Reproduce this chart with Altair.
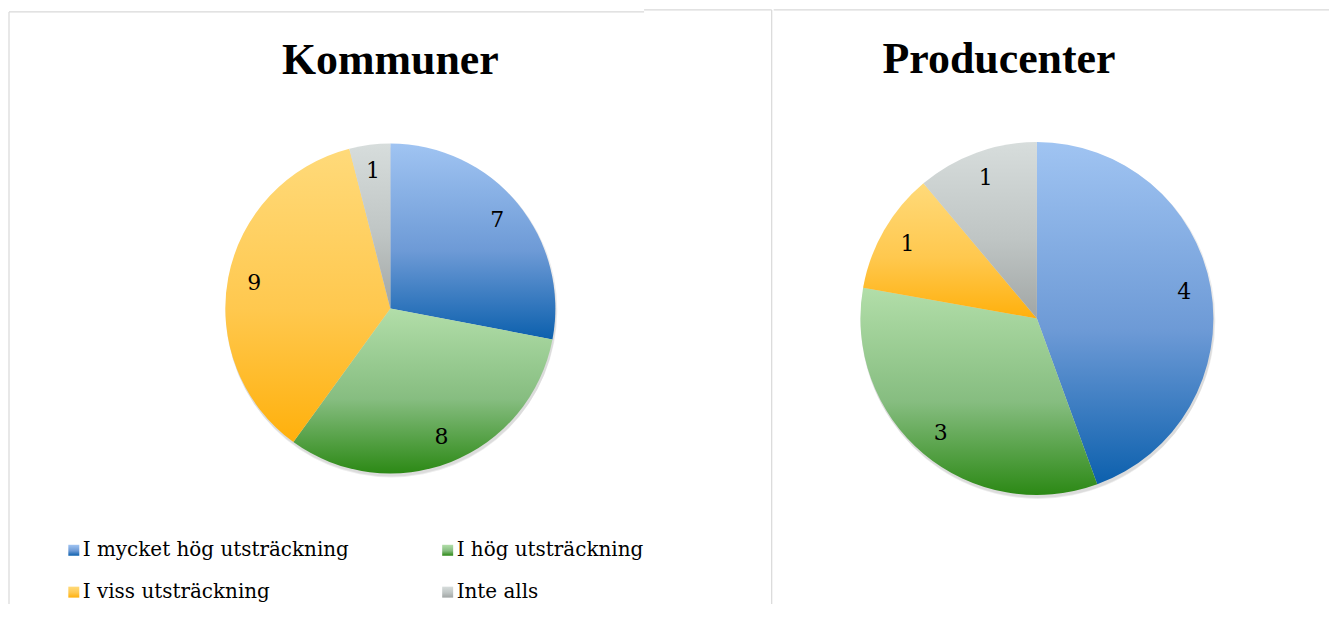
import altair as alt
import pandas as pd

# ---------------- data ----------------
categories = ["I mycket hög utsträckning", "I hög utsträckning", "I viss utsträckning", "Inte alls"]
kommuner_values = [7, 8, 9, 1]
producenter_values = [4, 3, 1, 1]
panel_titles = ["Kommuner", "Producenter"]
legend_cols = [0, 1, 0, 1]
legend_rows = [0, 0, 1, 1]

# ---------------- styles ----------------
def grad(c0, c1, c2):
    return alt.LinearGradient(
        gradient="linear", x1=0, y1=0, x2=0, y2=1,
        stops=[alt.GradientStop(color=c0, offset=0),
               alt.GradientStop(color=c1, offset=0.55),
               alt.GradientStop(color=c2, offset=1)])

fills = {
    categories[0]: grad("#a0c4f2", "#6d9ad6", "#0c60ad"),
    categories[1]: grad("#b2dea9", "#86bd80", "#2c8915"),
    categories[2]: grad("#ffda7a", "#ffc84e", "#ffb00c"),
    categories[3]: grad("#d7dddc", "#bfc5c4", "#a1a6a5"),
}
BORDER = "#d9d9d9"
W1, W2, H = 765, 557, 596
theta_scale = alt.Scale(domain=[0, 1], range=[0, 6.283185307179586])


def pie_layers(values, cx, cy, R, label_r):
    df = pd.DataFrame({"cat": categories, "value": values, "order": list(range(len(categories)))})
    base = (alt.Chart(df)
            .transform_joinaggregate(total="sum(value)")
            .transform_window(cum="sum(value)", sort=[alt.SortField("order")], frame=[None, 0])
            .transform_calculate(start="(datum.cum - datum.value) / datum.total",
                                 end="datum.cum / datum.total",
                                 mid="(datum.cum - datum.value / 2) / datum.total"))
    layers = []
    # soft shadow
    for dy, dr, op in [(4, 0, 0.07), (2, 1, 0.07)]:
        layers.append(base.transform_filter("datum.order == 0").mark_arc(
            theta=0, theta2=6.2831853, fill="#000000", opacity=op).encode(
            x=alt.value(cx + 1), y=alt.value(cy + dy), radius=alt.value(R + dr)))
    for c in categories:
        layers.append(base.transform_filter(alt.datum.cat == c).mark_arc(fill=fills[c], strokeWidth=0).encode(
            theta=alt.Theta("start:Q", stack=None, scale=theta_scale),
            theta2="end:Q",
            x=alt.value(cx), y=alt.value(cy), radius=alt.value(R)))
    layers.append(base.mark_text(font="DejaVu Serif", fontSize=22, color="#000000",
                                 align="center", baseline="middle").encode(
        theta=alt.Theta("mid:Q", stack=None, scale=theta_scale),
        radius=alt.value(label_r),
        x=alt.value(cx), y=alt.value(cy),
        text="value:Q"))
    return layers


def title_layer(text, tx, ty):
    d = pd.DataFrame({"t": [text]})
    return alt.Chart(d).mark_text(font="Liberation Serif", fontSize=44, fontWeight="bold",
                                  color="#000000", align="center", baseline="alphabetic").encode(
        x=alt.value(tx), y=alt.value(ty), text="t:N")


def rule(x, y, x2=None, y2=None):
    d = pd.DataFrame({"k": [0]})
    enc = dict(x=alt.value(x), y=alt.value(y))
    if x2 is not None:
        enc["x2"] = alt.value(x2)
    if y2 is not None:
        enc["y2"] = alt.value(y2)
    return alt.Chart(d).mark_rule(color=BORDER, strokeWidth=1.2).encode(**enc)


# ---------------- legend ----------------
leg_df = pd.DataFrame({"cat": categories, "col": legend_cols, "row": legend_rows})
lx = alt.X("col:Q", scale=alt.Scale(domain=[0, 1], range=[65, 440]), axis=None)
ly = alt.Y("row:Q", scale=alt.Scale(domain=[0, 1], range=[542, 584]), axis=None)
legend_layers = []
for c in categories:
    legend_layers.append(alt.Chart(leg_df).transform_filter(alt.datum.cat == c)
                         .mark_square(size=121, fill=fills[c], opacity=1, strokeWidth=0)
                         .encode(x=lx, y=ly))
legend_layers.append(alt.Chart(leg_df).mark_text(font="DejaVu Serif", fontSize=20, color="#000000",
                                                 align="left", baseline="middle", dx=9)
                     .encode(x=lx, y=ly, text="cat:N"))

# ---------------- panels ----------------
left = alt.layer(
    rule(0, 2, y2=H), rule(0, 2, x2=637), rule(637, 0, x2=W1), rule(W1, 0, y2=H),
    title_layer(panel_titles[0], 382.5, 64),
    *pie_layers(kommuner_values, 382.5, 299.5, 165.5, 139),
    *legend_layers,
).properties(width=W1, height=H)

right = alt.layer(
    rule(0, 0, x2=W2),
    title_layer(panel_titles[1], 226, 63),
    *pie_layers(producenter_values, 264, 309.5, 177, 150),
).properties(width=W2, height=H)

chart = (alt.hconcat(left, right, spacing=0)
         .properties(padding={"left": 0, "top": 0, "right": 0, "bottom": 0},
                     background="#ffffff")
         .configure_view(strokeWidth=0, stroke="transparent"))

chart.save("out.html", embed_options={"renderer": "svg", "actions": False})
